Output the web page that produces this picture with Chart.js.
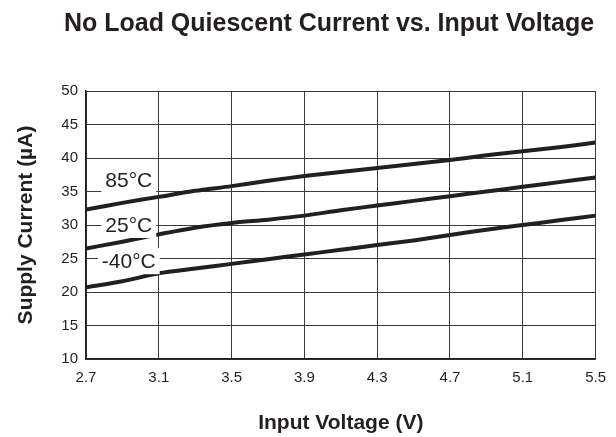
<!DOCTYPE html>
<html>
<head>
<meta charset="utf-8">
<script src="https://cdn.jsdelivr.net/npm/chart.js@4"></script>
<style>
  html, body { margin: 0; padding: 0; background: #fff; }
  #wrap { width: 616px; height: 437px; }
</style>
</head>
<body>
<div id="wrap"><canvas id="myChart" width="616" height="437"></canvas></div>
<script>
// ---- data ----
const voltage = [2.7, 2.9, 3.1, 3.3, 3.5, 3.7, 3.9, 4.1, 4.3, 4.5, 4.7, 4.9, 5.1, 5.3, 5.5];
const current85 = [32.3, 33.3, 34.2, 35.1, 35.8, 36.6, 37.3, 37.9, 38.5, 39.1, 39.7, 40.4, 41.0, 41.6, 42.3];
const current25 = [26.5, 27.5, 28.6, 29.6, 30.3, 30.8, 31.4, 32.2, 32.9, 33.6, 34.3, 35.0, 35.7, 36.4, 37.1];
const currentM40 = [20.7, 21.6, 22.8, 23.5, 24.2, 24.9, 25.6, 26.3, 27.0, 27.7, 28.5, 29.3, 30.0, 30.7, 31.4];
const xTicks = [2.7, 3.1, 3.5, 3.9, 4.3, 4.7, 5.1, 5.5];
const curveNames = ['85°C', '25°C', '-40°C'];

const ink = '#231f20';
const fam = '"Liberation Sans", Arial, sans-serif';

const toXY = (ys) => voltage.map((v, i) => ({ x: v, y: ys[i] }));

// title + inline curve labels with white boxes
const annotate = {
  id: 'annotate',
  afterDatasetsDraw(chart, args, opts) {
    const { ctx, scales } = chart;
    ctx.save();
    ctx.fillStyle = ink;
    ctx.font = 'bold 25px ' + fam;
    ctx.textAlign = 'center';
    ctx.textBaseline = 'middle';
    ctx.fillText('No Load Quiescent Current vs. Input Voltage', 329, 24);

    ctx.font = '21px ' + fam;
    opts.spots.forEach((s, i) => {
      const x = scales.x.getPixelForValue(s[0]);
      const y = scales.y.getPixelForValue(s[1]);
      const w = ctx.measureText(curveNames[i]).width + 8;
      ctx.fillStyle = '#fff';
      ctx.fillRect(x - w / 2, y - 13, w, 26);
      ctx.fillStyle = ink;
      ctx.fillText(curveNames[i], x, y + 1);
    });
    ctx.restore();
  }
};

const line = (label, ys) => ({
  label: label,
  data: toXY(ys),
  borderColor: ink,
  borderWidth: 4,
  pointRadius: 0,
  tension: 0.3,
  fill: false
});

new Chart(document.getElementById('myChart').getContext('2d'), {
  type: 'line',
  data: {
    datasets: [
      line(curveNames[0], current85),
      line(curveNames[1], current25),
      line(curveNames[2], currentM40)
    ]
  },
  options: {
    responsive: false,
    animation: false,
    layout: { padding: { top: 91, right: 20, left: 0, bottom: 0 } },
    plugins: {
      legend: { display: false },
      tooltip: { enabled: false },
      annotate: { spots: [[2.935, 36.7], [2.935, 30.0], [2.935, 24.6]] }
    },
    scales: {
      x: {
        type: 'linear',
        min: 2.7,
        max: 5.5,
        afterBuildTicks: (s) => { s.ticks = xTicks.map(v => ({ value: v })); },
        afterFit: (s) => { s.height = 78; },
        ticks: {
          color: ink,
          padding: 10,
          font: { size: 15, family: fam },
          callback: (v) => Number(v).toFixed(1)
        },
        grid: { color: '#3a3a3a', lineWidth: 1, drawTicks: false },
        border: { color: ink, width: 1.5 },
        title: {
          display: true,
          text: 'Input Voltage (V)',
          color: ink,
          padding: { top: 0, bottom: 1 },
          font: { size: 21, weight: 'bold', family: fam }
        }
      },
      y: {
        min: 10,
        max: 50,
        afterFit: (s) => { s.width = 86; },
        ticks: {
          stepSize: 5,
          color: ink,
          padding: 8,
          font: { size: 15, family: fam }
        },
        grid: { color: '#3a3a3a', lineWidth: 1, drawTicks: false },
        border: { color: ink, width: 1.5 },
        title: {
          display: true,
          text: 'Supply Current (µA)',
          color: ink,
          padding: { top: 14, bottom: 0 },
          font: { size: 21, weight: 'bold', family: fam }
        }
      }
    }
  },
  plugins: [annotate]
});
</script>
</body>
</html>
